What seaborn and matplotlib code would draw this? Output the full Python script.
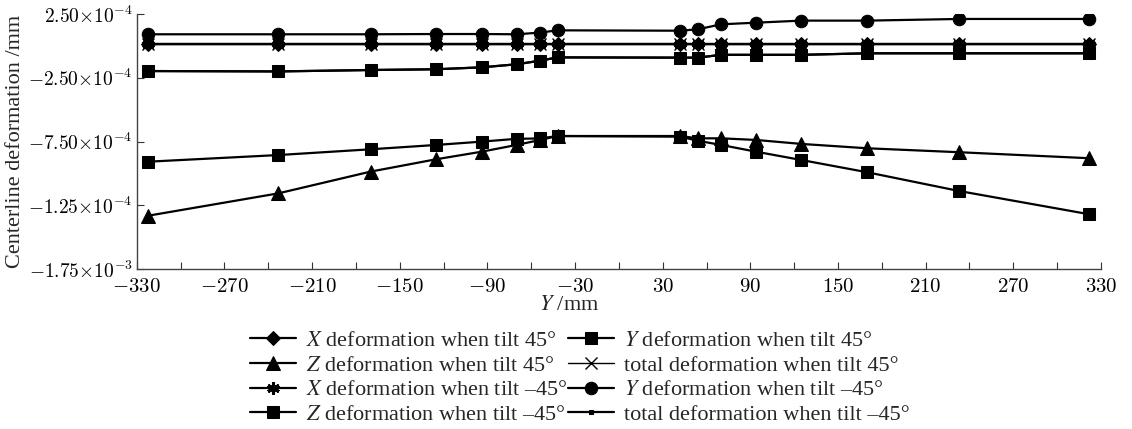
import matplotlib
matplotlib.use('Agg')
import numpy as np
import pandas as pd
import matplotlib.pyplot as plt
import seaborn as sns

# positions along Y (mm) where the markers sit
Y_POS = [-322, -233, -170, -125, -94, -70, -54, -42, 42, 54, 70, 94, 125, 170, 233, 322]

X_DEF_45 = [1.5e-5, 1.5e-5, 1.5e-5, 1.5e-5, 1.5e-5, 1.5e-5, 1.5e-5, 1.5e-5,
            1.5e-5, 1.5e-5, 1.5e-5, 1.5e-5, 1.5e-5, 1.5e-5, 1.5e-5, 1.5e-5]
Y_DEF_45 = [-1.97e-4, -2.00e-4, -1.89e-4, -1.83e-4, -1.68e-4, -1.44e-4, -1.16e-4, -0.90e-4,
            -0.92e-4, -0.92e-4, -0.70e-4, -0.70e-4, -0.70e-4, -0.58e-4, -0.58e-4, -0.58e-4]
Z_DEF_45 = [-1.33e-3, -1.155e-3, -9.85e-4, -8.88e-4, -8.29e-4, -7.76e-4, -7.37e-4, -7.06e-4,
            -7.06e-4, -7.24e-4, -7.24e-4, -7.37e-4, -7.68e-4, -8.02e-4, -8.33e-4, -8.80e-4]
TOTAL_DEF_45 = [1.5e-5, 1.5e-5, 1.5e-5, 1.5e-5, 1.5e-5, 1.5e-5, 1.5e-5, 1.5e-5,
                1.5e-5, 1.5e-5, 1.5e-5, 1.5e-5, 1.5e-5, 1.5e-5, 1.5e-5, 1.5e-5]
X_DEF_M45 = [1.5e-5, 1.5e-5, 1.5e-5, 1.5e-5, 1.5e-5, 1.5e-5, 1.5e-5, 1.5e-5,
             1.5e-5, 1.5e-5, 1.5e-5, 1.5e-5, 1.5e-5, 1.5e-5, 1.5e-5, 1.5e-5]
Y_DEF_M45 = [0.91e-4, 0.91e-4, 0.91e-4, 0.93e-4, 0.93e-4, 0.91e-4, 1.04e-4, 1.22e-4,
             1.19e-4, 1.30e-4, 1.69e-4, 1.82e-4, 1.98e-4, 1.98e-4, 2.11e-4, 2.11e-4]
Z_DEF_M45 = [-9.07e-4, -8.55e-4, -8.10e-4, -7.76e-4, -7.50e-4, -7.28e-4, -7.25e-4, -7.06e-4,
             -7.11e-4, -7.43e-4, -7.76e-4, -8.29e-4, -8.94e-4, -9.90e-4, -1.137e-3, -1.319e-3]
TOTAL_DEF_M45 = [-1.97e-4, -2.00e-4, -1.89e-4, -1.83e-4, -1.68e-4, -1.44e-4, -1.16e-4, -0.90e-4,
                 -0.92e-4, -0.92e-4, -0.70e-4, -0.70e-4, -0.70e-4, -0.58e-4, -0.58e-4, -0.58e-4]

LABELS = [
    r'$X$ deformation when tilt 45°',
    r'$Z$ deformation when tilt 45°',
    r'$X$ deformation when tilt –45°',
    r'$Z$ deformation when tilt –45°',
    r'$Y$ deformation when tilt 45°',
    'total deformation when tilt 45°',
    r'$Y$ deformation when tilt –45°',
    'total deformation when tilt –45°',
]

Y_TICKS = [2.5e-4, -2.5e-4, -7.5e-4, -1.25e-3, -1.75e-3]
Y_TICK_LABELS = [r'$2.50{\times}10^{-4}$', r'$-2.50{\times}10^{-4}$', r'$-7.50{\times}10^{-4}$',
                 r'$-1.25{\times}10^{-4}$', r'$-1.75{\times}10^{-3}$']

sns.set_style('ticks')
plt.rcParams['font.family'] = ['Liberation Serif', 'DejaVu Serif']
plt.rcParams['mathtext.fontset'] = 'cm'

fig = plt.figure(figsize=(11.32, 4.29), dpi=100)
ax = fig.add_axes([0.1208, 0.3723, 0.8518, 0.5951])

series = [
    (X_DEF_45, dict(marker='D', markersize=7, linewidth=1.6)),
    (Z_DEF_45, dict(marker='^', markersize=10, linewidth=1.6)),
    (X_DEF_M45, dict(marker=(6, 2, 0), markersize=9, markeredgewidth=2.2, linewidth=1.6)),
    (Z_DEF_M45, dict(marker='s', markersize=8, linewidth=1.6)),
    (Y_DEF_45, dict(marker='s', markersize=8, linewidth=1.6)),
    (TOTAL_DEF_45, dict(marker='x', markersize=8, markeredgewidth=1.0, linewidth=1.0)),
    (Y_DEF_M45, dict(marker='o', markersize=9, linewidth=1.6)),
    (TOTAL_DEF_M45, dict(marker='s', markersize=3.5, linewidth=1.6)),
]

for (vals, style), label in zip(series, LABELS):
    df = pd.DataFrame({'Y': Y_POS, 'deformation': vals})
    sns.lineplot(data=df, x='Y', y='deformation', ax=ax, color='black',
                 markeredgecolor='black', label=label, **style)

ax.set_xlim(-330, 330)
ax.set_ylim(-1.75e-3, 2.5e-4)
ax.set_xticks(np.arange(-330, 331, 60))
ax.set_xticks(np.arange(-300, 301, 60), minor=True)
ax.set_xticklabels([r'$%d$' % v for v in np.arange(-330, 331, 60)])
ax.set_yticks(Y_TICKS)
ax.set_yticklabels(Y_TICK_LABELS)
ax.tick_params(axis='both', which='both', direction='in', length=5, width=0.8,
               colors='#333333', labelcolor='black')
ax.tick_params(axis='x', pad=6, labelsize=15)
ax.tick_params(axis='y', pad=3, labelsize=14)

for side in ['top', 'right']:
    ax.spines[side].set_visible(False)
for side in ['left', 'bottom']:
    ax.spines[side].set_color('#444444')
    ax.spines[side].set_linewidth(1.0)

ax.set_xlabel(r'$Y$ /mm', fontsize=16)
ax.xaxis.label.set_math_fontfamily('stix')
ax.xaxis.set_label_coords(0.448, -0.105)
ax.set_ylabel('Centerline deformation /mm', fontsize=16)
ax.yaxis.set_label_coords(-0.116, 0.5)

handles, labels = ax.get_legend_handles_labels()
ax.get_legend().remove()
leg = fig.legend(handles, labels, loc='upper left', bbox_to_anchor=(0.2208, 0.23),
                 ncol=2, frameon=False, fontsize=16, handlelength=2.05,
                 handletextpad=0.45, columnspacing=0.05, labelspacing=0.19,
                 borderaxespad=0, borderpad=0)
for t in leg.get_texts():
    t.set_math_fontfamily('stix')

fig.savefig('out.png', dpi=100)
